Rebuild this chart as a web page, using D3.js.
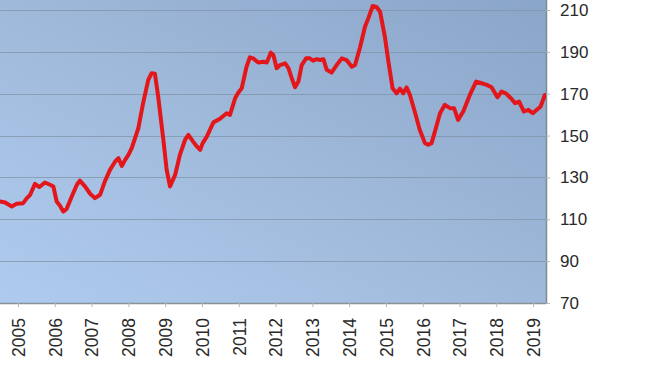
<!DOCTYPE html>
<html>
<head>
<meta charset="utf-8">
<script src="https://cdn.jsdelivr.net/npm/d3@7"></script>
<style>
  html, body { margin: 0; padding: 0; background: #ffffff; }
  svg { display: block; }
</style>
</head>
<body>
<svg id="chart" width="650" height="366"></svg>
<script>
// ---- data ----
const dates = [
  2004.51, 2004.65, 2004.83, 2004.96, 2005.14, 2005.24, 2005.33, 2005.46, 2005.58, 2005.73,
  2005.87, 2005.96, 2006.05, 2006.14, 2006.23, 2006.32, 2006.46, 2006.60, 2006.68, 2006.82,
  2006.96, 2007.09, 2007.23, 2007.36, 2007.50, 2007.64, 2007.73, 2007.82, 2007.91, 2008.00,
  2008.09, 2008.27, 2008.40, 2008.54, 2008.63, 2008.72, 2008.81, 2008.95, 2009.04, 2009.13,
  2009.27, 2009.40, 2009.54, 2009.63, 2009.76, 2009.86, 2009.95, 2010.02, 2010.13, 2010.31,
  2010.49, 2010.67, 2010.76, 2010.90, 2010.99, 2011.08, 2011.21, 2011.30, 2011.39, 2011.53,
  2011.67, 2011.76, 2011.87, 2011.94, 2012.03, 2012.12, 2012.26, 2012.35, 2012.44, 2012.53,
  2012.62, 2012.71, 2012.83, 2012.93, 2013.02, 2013.12, 2013.21, 2013.30, 2013.39, 2013.52,
  2013.66, 2013.80, 2013.93, 2014.07, 2014.16, 2014.29, 2014.43, 2014.52, 2014.64, 2014.75,
  2014.84, 2014.97, 2015.06, 2015.18, 2015.29, 2015.38, 2015.47, 2015.56, 2015.65, 2015.79,
  2015.92, 2016.06, 2016.15, 2016.24, 2016.33, 2016.47, 2016.60, 2016.74, 2016.85, 2016.96,
  2017.10, 2017.28, 2017.45, 2017.60, 2017.74, 2017.87, 2018.03, 2018.14, 2018.26, 2018.42,
  2018.51, 2018.62, 2018.75, 2018.87, 2018.99, 2019.10, 2019.20, 2019.32
];
const values = [
  118.5, 118.0, 116.1, 117.4, 117.7, 120.1, 121.7, 126.9, 125.4, 127.6,
  126.5, 125.7, 118.5, 116.5, 113.7, 114.9, 120.9, 126.5, 128.5, 125.7,
  122.2, 120.1, 121.7, 128.1, 133.6, 137.6, 139.2, 135.5, 138.4, 140.8,
  144.0, 153.5, 165.5, 176.6, 179.8, 179.5, 168.6, 148.0, 133.6, 125.7,
  131.2, 140.8, 148.0, 150.3, 147.1, 144.8, 143.2, 146.4, 149.5, 156.3,
  158.0, 160.7, 159.9, 167.8, 170.6, 172.6, 182.9, 187.4, 186.9, 184.9,
  185.3, 184.9, 189.6, 188.5, 182.2, 183.7, 184.5, 182.2, 177.4, 173.1,
  175.8, 183.7, 186.9, 186.9, 185.8, 186.5, 186.1, 186.5, 181.4, 180.1,
  183.7, 186.9, 186.1, 182.9, 183.7, 191.7, 202.0, 206.0, 211.9, 211.3,
  209.2, 197.3, 186.1, 172.6, 170.2, 172.4, 170.2, 173.0, 169.5, 161.0,
  152.7, 146.4, 145.6, 146.4, 151.9, 160.7, 164.7, 163.1, 163.1, 157.5,
  161.5, 169.4, 175.8, 175.0, 174.2, 173.1, 168.3, 171.0, 170.2, 167.4,
  165.5, 166.2, 161.5, 162.3, 160.7, 162.3, 163.8, 169.4
];
const yearTicks = [2005, 2006, 2007, 2008, 2009, 2010, 2011, 2012, 2013, 2014, 2015, 2016, 2017, 2018, 2019];
const valueTicks = [70, 90, 110, 130, 150, 170, 190, 210];

// ---- layout ----
const svg = d3.select("#chart");
const plot = { left: 0, top: 0, right: 546, bottom: 303 };

const x = d3.scaleLinear().domain([2004.51, 2019.35]).range([plot.left, plot.right]);
const y = d3.scaleLinear().domain([70, 210]).range([plot.bottom, 10]);

// background gradient
const defs = svg.append("defs");
const grad = defs.append("linearGradient")
  .attr("id", "bg").attr("x1", "0").attr("y1", "1").attr("x2", "1").attr("y2", "0");
grad.append("stop").attr("offset", "0%").attr("stop-color", "#aecbef");
grad.append("stop").attr("offset", "45%").attr("stop-color", "#a1bbdc");
grad.append("stop").attr("offset", "100%").attr("stop-color", "#89a5c8");

defs.append("clipPath").attr("id", "clip")
  .append("rect").attr("x", plot.left).attr("y", plot.top)
  .attr("width", plot.right - plot.left).attr("height", plot.bottom - plot.top);

svg.append("rect")
  .attr("x", plot.left).attr("y", plot.top)
  .attr("width", plot.right - plot.left).attr("height", plot.bottom - plot.top)
  .attr("fill", "url(#bg)");

// gridlines
svg.append("g")
  .selectAll("line")
  .data(valueTicks.filter(v => v > 70))
  .join("line")
  .attr("x1", plot.left).attr("x2", plot.right)
  .attr("y1", d => Math.round(y(d)) + 0.5).attr("y2", d => Math.round(y(d)) + 0.5)
  .attr("stroke", "#8093a8").attr("stroke-width", 1).attr("stroke-opacity", 0.75);

// right axis
const yAxis = d3.axisRight(y).tickValues(valueTicks).tickSize(4).tickPadding(10);
const gy = svg.append("g")
  .attr("transform", `translate(${plot.right},0)`)
  .call(yAxis);
gy.select(".domain").attr("stroke", "#7f8a95").attr("stroke-width", 1.5)
  .attr("d", `M0.5,${plot.top}V${plot.bottom}`);
gy.selectAll(".tick line").attr("stroke", "#b0b8c0");
gy.selectAll(".tick text")
  .attr("fill", "#2a2a2a")
  .attr("font-family", "'Liberation Sans', Arial, sans-serif")
  .attr("font-size", "17px")
  .attr("x", 14);

// bottom axis
const xAxis = d3.axisBottom(x).tickValues(yearTicks).tickFormat(d3.format("d")).tickSize(4);
const gx = svg.append("g")
  .attr("transform", `translate(0,${plot.bottom})`)
  .call(xAxis);
gx.select(".domain").attr("stroke", "#8a9196").attr("stroke-width", 1.5)
  .attr("d", `M${plot.left},0.5H${plot.right}`);
gx.selectAll(".tick line").attr("stroke", "#b0b8c0");
gx.selectAll(".tick text")
  .attr("fill", "#2a2a2a")
  .attr("font-family", "'Liberation Sans', Arial, sans-serif")
  .attr("font-size", "17.5px")
  .attr("text-anchor", "end")
  .attr("transform", "rotate(-90)")
  .attr("x", -15)
  .attr("y", 0)
  .attr("dy", "0.36em");

// line
const data = dates.map((d, i) => ({ date: d, value: values[i] }));
const line = d3.line().x(d => x(d.date)).y(d => y(d.value)).curve(d3.curveLinear);
svg.append("path")
  .datum(data)
  .attr("clip-path", "url(#clip)")
  .attr("d", line)
  .attr("fill", "none")
  .attr("stroke", "#e3161c")
  .attr("stroke-width", 4)
  .attr("stroke-linejoin", "round")
  .attr("stroke-linecap", "round");
</script>
</body>
</html>
